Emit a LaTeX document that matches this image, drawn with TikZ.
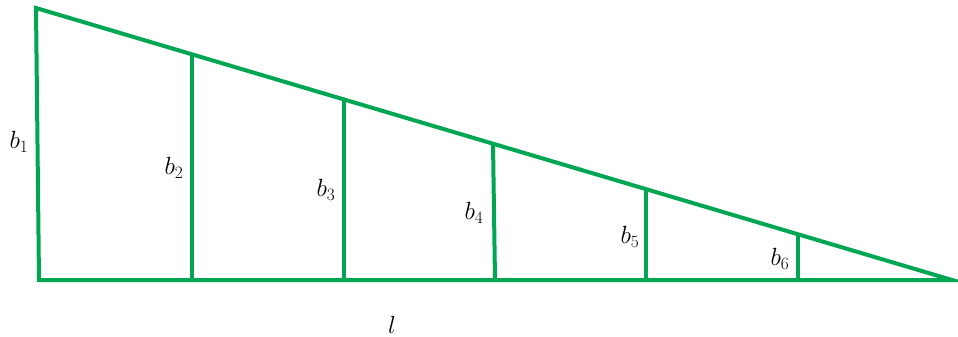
\documentclass[tikz,border=0pt]{standalone}
\usepackage{xcolor}
\definecolor{lgreen}{RGB}{0,166,81}
\begin{document}
\begin{tikzpicture}[x=1pt,y=-1pt,
  edge/.style={draw=lgreen,line width=4pt,line join=miter},
  lbl/.style={inner sep=0pt,font=\fontsize{24}{28}\selectfont}]
\useasboundingbox (0,0) rectangle (958,337);
\coordinate (A) at (36,8);
\coordinate (B) at (39,280);
\coordinate (C) at (952,280);
\coordinate (t2) at (192,54.2);  \coordinate (u2) at (192,280);
\coordinate (t3) at (344,99.2);  \coordinate (u3) at (344,280);
\coordinate (t4) at (493,143.3); \coordinate (u4) at (495,280);
\coordinate (t5) at (646,188.5); \coordinate (u5) at (646,280);
\coordinate (t6) at (798,233.5); \coordinate (u6) at (798,280);
\draw[edge] (A) -- (B) -- (C) -- cycle;
\draw[edge] (t2) -- (u2);
\draw[edge] (t3) -- (u3);
\draw[edge] (t4) -- (u4);
\draw[edge] (t5) -- (u5);
\draw[edge] (t6) -- (u6);
\node[lbl] (L1) at (19,142) {$b_1$};
\node[lbl] (L2) at (174,168) {$b_2$};
\node[lbl] (L3) at (326,190) {$b_3$};
\node[lbl] (L4) at (474,213) {$b_4$};
\node[lbl] (L5) at (630,237) {$b_5$};
\node[lbl] (L6) at (780,259) {$b_6$};
\node[lbl] (Ll) at (392,325) {$l$};
\end{tikzpicture}
\end{document}
